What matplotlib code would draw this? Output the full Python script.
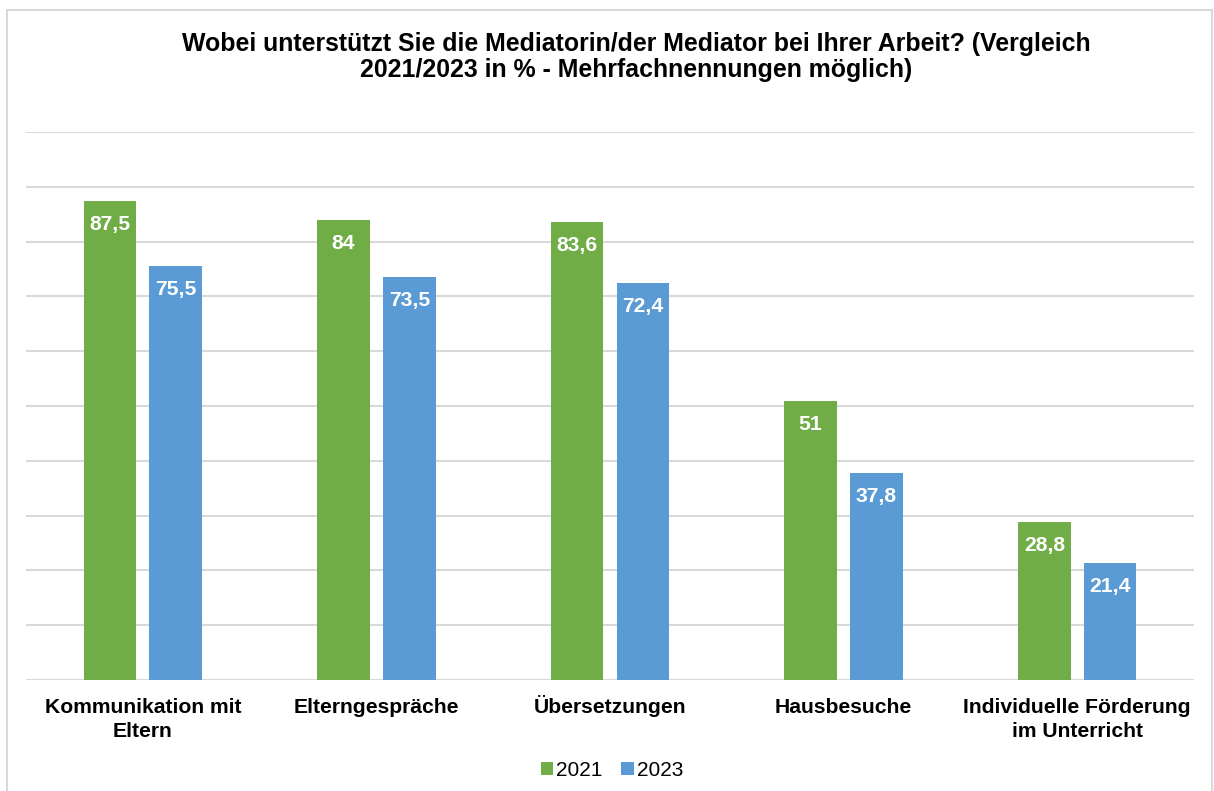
import matplotlib as mpl
mpl.use('Agg')
import matplotlib.pyplot as plt
import numpy as np
from matplotlib.patches import Rectangle

plt.rcParams['font.family'] = ['Liberation Sans', 'DejaVu Sans']

# ── Daten ──
categories = ['Kommunikation mit\nEltern', 'Elterngespräche', 'Übersetzungen',
              'Hausbesuche', 'Individuelle Förderung\nim Unterricht']
vals_2021 = [87.5, 84, 83.6, 51, 28.8]
vals_2023 = [75.5, 73.5, 72.4, 37.8, 21.4]
labels_2021 = ['87,5', '84', '83,6', '51', '28,8']
labels_2023 = ['75,5', '73,5', '72,4', '37,8', '21,4']

GREEN = '#70AD47'
BLUE = '#5B9BD5'
GRID = '#D9D9D9'

fig = plt.figure(figsize=(12.14, 7.91), dpi=100)
ax = fig.add_axes([26 / 1214, 1 - 680 / 791, (1194 - 26) / 1214, (680 - 132) / 791])

x = np.arange(len(categories))
w = 0.225
off = 0.141
b1 = ax.bar(x - off, vals_2021, w, color=GREEN, label='2021', zorder=2)
b2 = ax.bar(x + off, vals_2023, w, color=BLUE, label='2023', zorder=2)

for bars, labs in ((b1, labels_2021), (b2, labels_2023)):
    for bar, lab in zip(bars, labs):
        ax.annotate(lab, (bar.get_x() + bar.get_width() / 2, bar.get_height()),
                    xytext=(0, -29), textcoords='offset pixels',
                    ha='center', va='baseline', color='white',
                    fontsize=15.2, fontweight='bold')

ax.set_xlim(-0.5, len(categories) - 0.5)
ax.set_ylim(0, 100)
ax.set_yticks(np.arange(0, 101, 10))
ax.yaxis.grid(True, color=GRID, lw=1.5, zorder=0)
ax.set_axisbelow(True)
ax.tick_params(axis='y', left=False, labelleft=False)
ax.tick_params(axis='x', bottom=False, labelbottom=False)
ax.set_xticks(x)
for s in ax.spines.values():
    s.set_visible(False)

# Kategorienbeschriftung: Grundlinie jeder Zeile fest ausrichten
for xi, cat in zip(x, categories):
    for j, line in enumerate(cat.split('\n')):
        ax.annotate(line, (xi, 0), xycoords=('data', 'axes fraction'),
                    xytext=(0, -33 - 24 * j), textcoords='offset pixels',
                    ha='center', va='baseline', fontsize=15.2, fontweight='bold')

fig.text(636 / 1214, 1 - 57 / 791,
         'Wobei unterstützt Sie die Mediatorin/der Mediator bei Ihrer Arbeit? (Vergleich\n'
         '2021/2023 in % - Mehrfachnennungen möglich)',
         ha='center', va='center', fontsize=17.9, fontweight='bold', linespacing=1.09)

fig.legend(handles=[b1, b2], labels=['2021', '2023'], loc='center',
           bbox_to_anchor=(612 / 1214, 1 - 770 / 791), ncol=2, frameon=False,
           fontsize=15, handlelength=0.6, handleheight=0.6,
           handletextpad=0.15, columnspacing=0.9)

fig.patches.append(Rectangle((7 / 1214, -0.05), 1205 / 1214, 1.05 - 10 / 791,
                             transform=fig.transFigure, fill=False,
                             edgecolor=GRID, lw=1.5))

fig.savefig('out.png', dpi=100)
